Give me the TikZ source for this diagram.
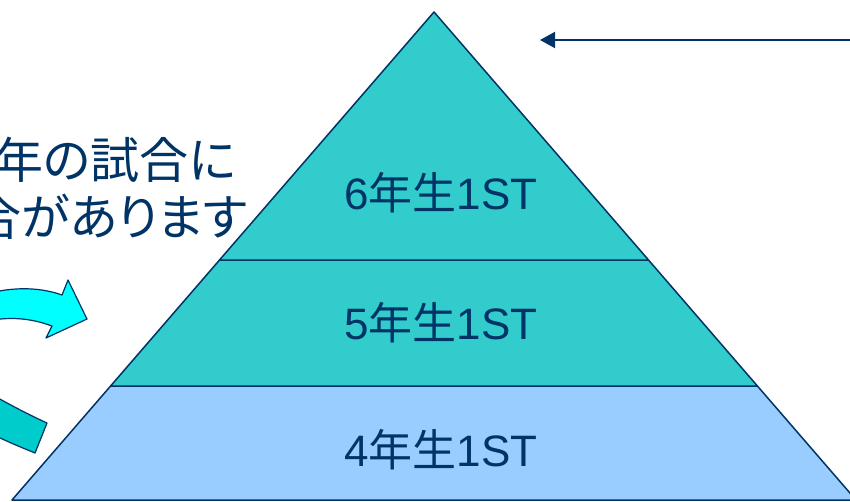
\documentclass[tikz,border=0pt]{standalone}
\usepackage{fontspec}
\setmainfont{Liberation Sans}
\newfontfamily\jp{Noto Sans CJK JP}
\newfontfamily\jpprop[RawFeature=+palt]{Noto Sans CJK JP}
\usepackage{xcolor}
\usetikzlibrary{arrows.meta}
\definecolor{navy}{HTML}{003366}
\definecolor{teal}{HTML}{33CCCC}
\definecolor{skyblue}{HTML}{99CCFF}
\definecolor{aqua}{HTML}{00FFFF}
\definecolor{bandteal}{HTML}{00CCCC}

\begin{document}
\begin{tikzpicture}[x=1pt,y=-1pt,
    tier/.style={draw=navy,line width=1.5pt,line join=round},
    tierlabel/.style={text=navy,font=\fontsize{44}{50}\selectfont,inner sep=0pt},
    sidetext/.style={text=navy,font=\jpprop\fontsize{49}{56}\selectfont,inner sep=0pt,anchor=east}]
    \useasboundingbox (0,0) rectangle (850,501);
    \clip (0,0) rectangle (850,501);
    % pyramid corners
    \coordinate (apex) at (434,12);
    \coordinate (bl) at (12,500);
    \coordinate (br) at (856,500);
    \coordinate (ml) at (110.6,386);
    \coordinate (mr) at (757.4,386);
    \coordinate (tl) at (219.5,260);
    \coordinate (tr) at (648.5,260);
    % tiers
    \filldraw [tier,fill=skyblue] (bl) -- (br) -- (mr) -- (ml) -- cycle;
    \filldraw [tier,fill=teal] (ml) -- (mr) -- (tr) -- (tl) -- cycle;
    \filldraw [tier,fill=teal] (tl) -- (tr) -- (apex) -- cycle;
    \node [tierlabel] (six) at (441,193) {6{\jp 年生}1ST};
    \node [tierlabel] (five) at (441,323) {5{\jp 年生}1ST};
    \node [tierlabel] (four) at (441,450) {4{\jp 年生}1ST};
    % side text
    \node [sidetext] (lineA) at (236,160) {年の試合に};
    \node [sidetext] (lineB) at (248,217) {合があります};
    % curved arrows on the left
    \filldraw [draw=navy,line width=1.2pt,fill=aqua,line join=round]
        (-20,296) .. controls (10,286) and (40,287) .. (62,295)
        -- (68,280) -- (87,319) -- (46,338) -- (52,326)
        .. controls (30,318) and (10,316) .. (-20,322) -- cycle;
    \filldraw [draw=navy,line width=1.2pt,fill=bandteal,line join=round]
        (-20,388) .. controls (5,402) and (25,413) .. (47,423)
        -- (35,453)
        .. controls (18,446) and (3,440) .. (-20,428) -- cycle;
    % pointer at the top
    \coordinate (pstart) at (860,40);
    \coordinate (ptip) at (540,40);
    \draw [navy,line width=2pt,-{Triangle[length=15pt,width=16pt]}] (pstart) -- (ptip);
\end{tikzpicture}
\end{document}
